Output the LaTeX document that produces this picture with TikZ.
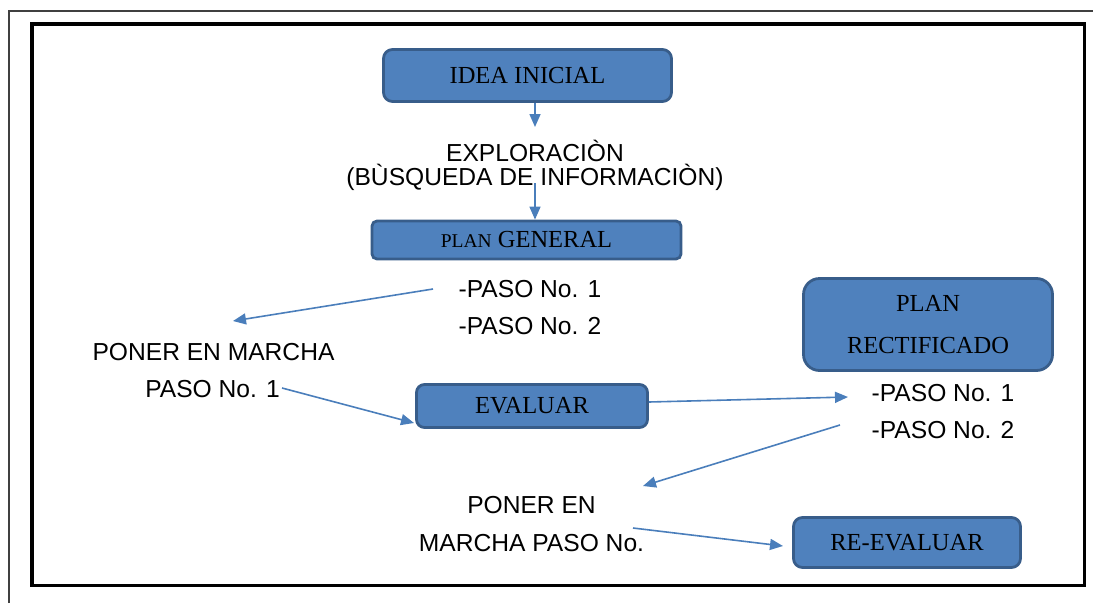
\documentclass[tikz,border=0pt]{standalone}
\usepackage{fontspec}
\setmainfont{Liberation Serif}
\setsansfont{Liberation Sans}
\usetikzlibrary{arrows.meta,calc}
\definecolor{boxfill}{HTML}{4F81BD}
\definecolor{boxline}{HTML}{385D8A}
\definecolor{arrcol}{HTML}{4A7EBB}
\begin{document}
\begin{tikzpicture}[x=1pt,y=-1pt,
  bx/.style={draw=boxline, line width=2.8pt, fill=boxfill, inner sep=0pt,
    font=\fontsize{24.5}{24.5}\selectfont, align=center},
  lbl/.style={font=\sffamily\fontsize{24.6}{26}\selectfont, inner sep=0pt, anchor=base},
  arr/.style={draw=arrcol, line width=1.6pt, -{Triangle[length=13pt,width=11pt]}}]
\useasboundingbox (0,0) rectangle (1093,603);
% frames
\draw[line width=1.5pt, draw=black!75] (9,603) -- (9,11) -- (1093,11);
\draw[line width=3.5pt] (32,24) rectangle (1084.5,585.5);
% boxes
\node[bx, minimum width=288pt, minimum height=52pt, rounded corners=9pt] (idea) at (527.5,75.5) {IDEA INICIAL};
\node[bx, minimum width=309pt, minimum height=38pt, rounded corners=5pt] (plang) at (526.5,240) {{\fontsize{19.5}{19.5}\selectfont PLAN} GENERAL};
\node[bx, minimum width=231pt, minimum height=43pt, rounded corners=8pt] (eval) at (532,406) {EVALUAR};
\node[bx, minimum width=249pt, minimum height=92pt, rounded corners=16pt, font=\fontsize{24.5}{42}\selectfont] (rect) at (928,324.5) {PLAN\\RECTIFICADO};
\node[bx, minimum width=227pt, minimum height=50pt, rounded corners=9pt] (reeval) at (907,542.5) {RE-EVALUAR};
% texts
\node[lbl] (expl1) at (535,161) {EXPLORACIÒN};
\node[lbl] (expl2) at (535,185) {(BÙSQUEDA DE INFORMACIÒN)};
\node[lbl] (gp1) at (530,297.5) {-PASO No. 1};
\node[lbl] (gp2) at (530,334) {-PASO No. 2};
\node[lbl] (pm1) at (213.5,360) {PONER EN MARCHA};
\node[lbl] (pm2) at (212.5,397) {PASO No. 1};
\node[lbl] (rp1) at (943,401.5) {-PASO No. 1};
\node[lbl] (rp2) at (943,438) {-PASO No. 2};
\node[lbl] (pe1) at (531.5,513.5) {PONER EN};
\node[lbl] (pe2) at (531.5,551) {MARCHA PASO No.};
% connector ends
\coordinate (t1) at (535,127);
\coordinate (s2) at (535,183);
\coordinate (s3) at (433,289);
\coordinate (t3) at (233,321);
\coordinate (s4) at (282,388);
\coordinate (t4) at (414,423);
\coordinate (t5) at (848,397);
\coordinate (s6) at (840,425);
\coordinate (t6) at (643,486);
\coordinate (s7) at (633,528);
\coordinate (t7) at (783,546);
% connectors
\draw[arr] (idea.south -| t1) -- (t1);
\draw[arr] (s2) -- (plang.north -| s2);
\draw[arr] (s3) -- (t3);
\draw[arr] (s4) -- (t4);
\draw[arr] ($(eval.east)+(0,-4)$) -- (t5);
\draw[arr] (s6) -- (t6);
\draw[arr] (s7) -- (t7);
\end{tikzpicture}
\end{document}
